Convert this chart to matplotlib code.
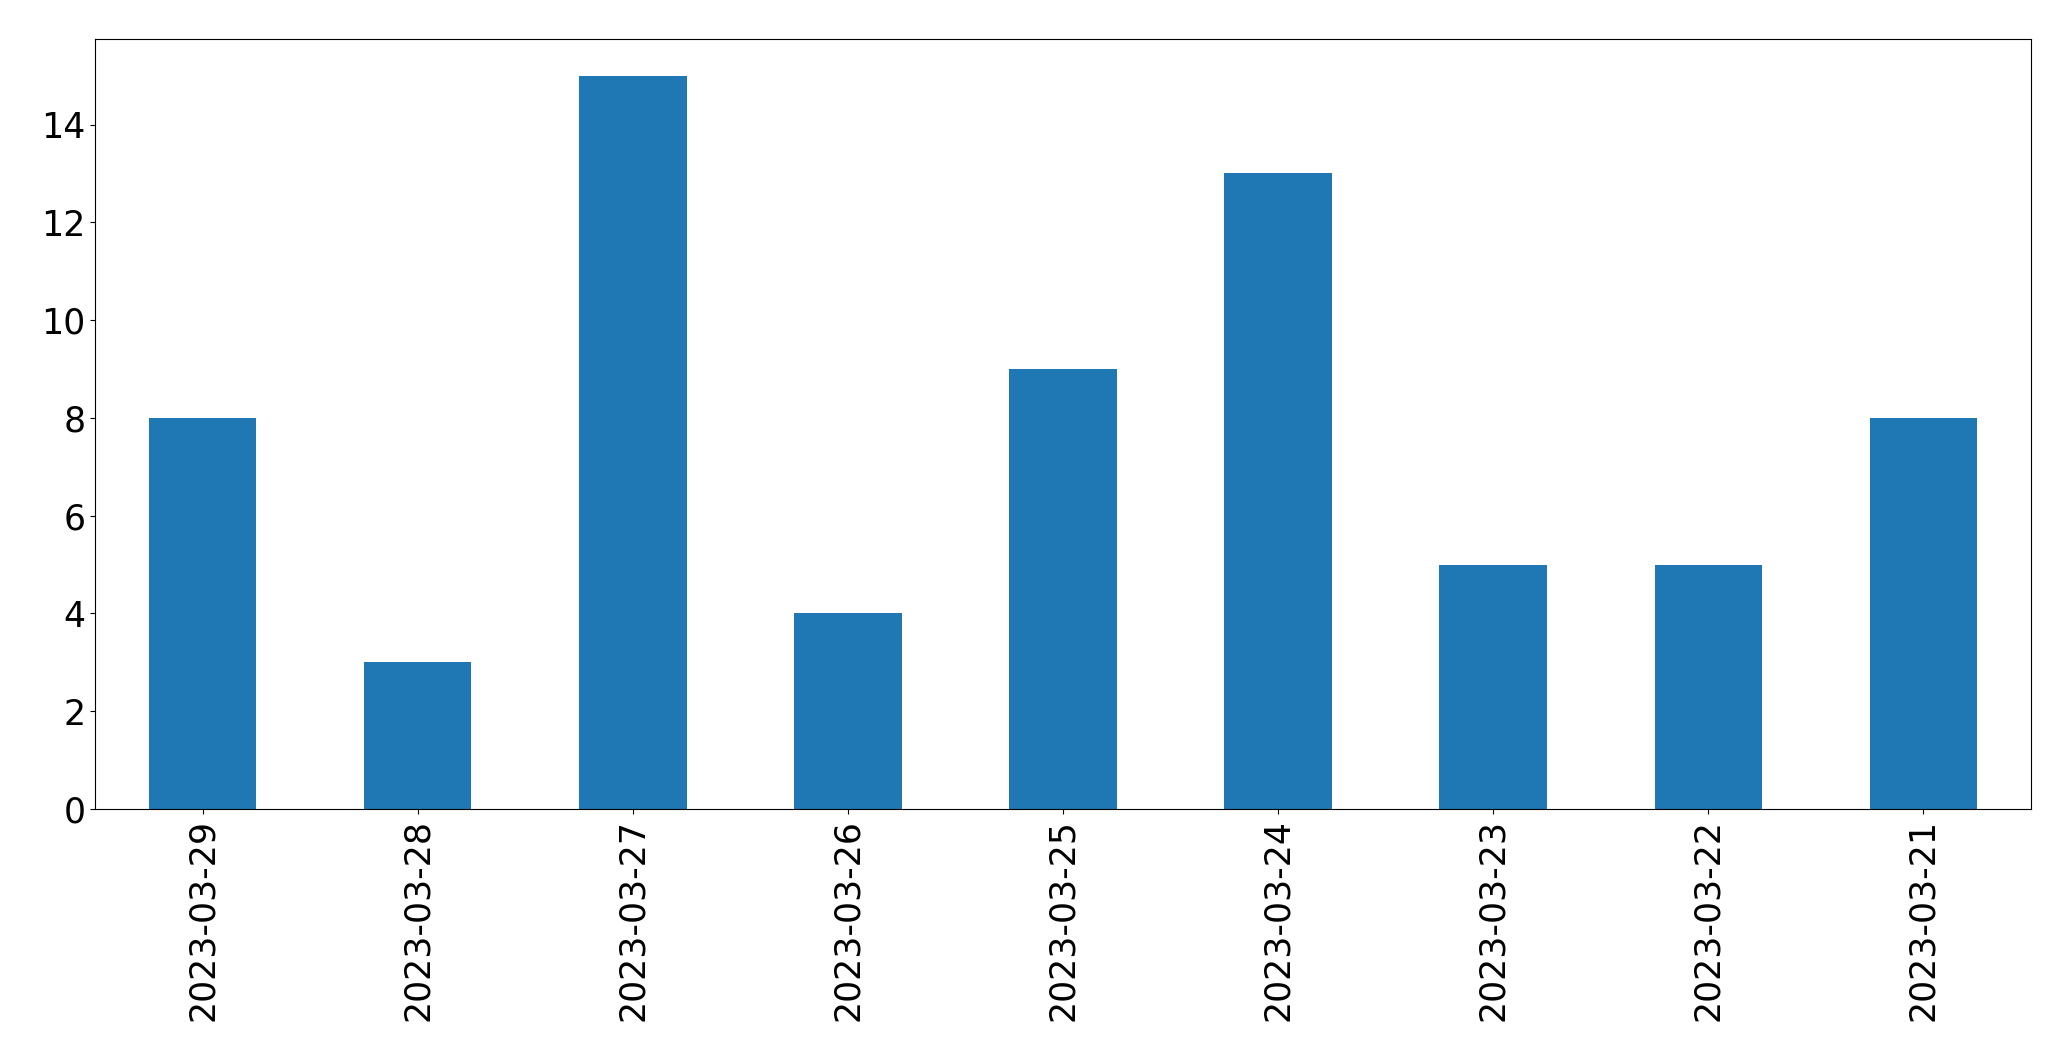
import matplotlib
matplotlib.use('Agg')
import matplotlib.pyplot as plt
import numpy as np

dates = ['2023-03-29', '2023-03-28', '2023-03-27', '2023-03-26', '2023-03-25',
         '2023-03-24', '2023-03-23', '2023-03-22', '2023-03-21']
counts = [8, 3, 15, 4, 9, 13, 5, 5, 8]

fig = plt.figure(figsize=(20.71, 10.61), dpi=100)
ax = fig.add_axes([95 / 2071, 1 - 809 / 1061, 1936 / 2071, 770 / 1061])

x = np.arange(len(dates))
ax.bar(x, counts, width=0.5, color='#1f77b4')
ax.set_xticks(x)
ax.set_xticklabels(dates, rotation=90)
ax.set_xlim(-0.5, len(dates) - 0.5)
ax.set_ylim(0, max(counts) * 1.05)
ax.tick_params(labelsize=25)

fig.savefig('out.png', dpi=100)
